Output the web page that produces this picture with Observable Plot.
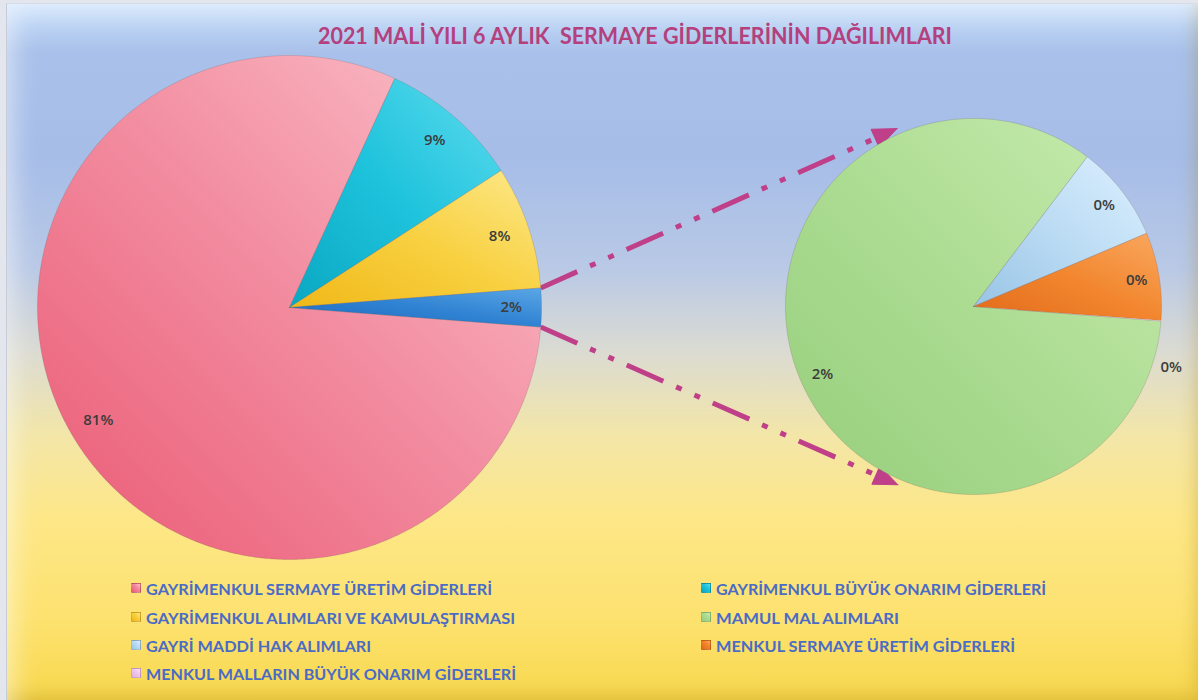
<!DOCTYPE html>
<html>
<head>
<meta charset="utf-8">
<script src="https://cdn.jsdelivr.net/npm/d3@7"></script>
<script src="https://cdn.jsdelivr.net/npm/@observablehq/plot@0.6"></script>
<style>
  html, body { margin: 0; padding: 0; background: #f2f2f4; }
  #frame { position: relative; width: 1198px; height: 700px; overflow: hidden; background: #e4e6ee; }
  #panel {
    position: absolute; left: 6px; top: 3px; right: 0px; bottom: 0px;
    background: linear-gradient(180deg, #c9e0fb 0%, #a9c1ea 7%, #a6bde8 22%, #b9c9e6 38%, #dbdbd2 50%, #f3e6a8 62%, #fde787 74%, #fde270 88%, #f8d84e 100%);
    box-shadow: inset 30px 30px 26px -24px rgba(255,255,255,0.55), inset -14px -16px 18px -12px rgba(150,110,0,0.28);
    border-left: 1px solid #c8ccd8; border-top: 1px solid #d8dce8;
  }
  #title {
    position: absolute; top: 22px; left: 318px; width: 634px; height: 28px; text-align: left;
    font-family: Lato, "Open Sans", sans-serif; font-weight: 700; font-size: 22px; color: #b4407e;
    white-space: pre; 
  }
  #title span { display: inline-block; transform-origin: left center; }
  #chart { position: absolute; left: 0; top: 0; }
  .leg { position: absolute; height: 20px; display: flex; align-items: center;
    font-family: Lato, "Open Sans", sans-serif; font-weight: 700; font-size: 16px; color: #4a6bc6; white-space: pre; }
  .leg .sw { width: 10px; height: 10px; margin-right: 5px; border: 1px solid rgba(0,0,0,0.18); box-sizing: border-box; }
  .leg .tx { display: inline-block; transform-origin: left center; }
</style>
</head>
<body>
<div id="frame">
  <div id="panel"></div>
  <div id="title"><span></span></div>
  <div id="chart"></div>
  <div id="legend"></div>
</div>
<script>
// ---------------- DATA ----------------
const titleText = "2021 MALİ YILI 6 AYLIK  SERMAYE GİDERLERİNİN DAĞILIMLARI";

// primary pie (percent of total)
const mainCategories = [
  "GAYRİMENKUL SERMAYE ÜRETİM GİDERLERİ",
  "GAYRİMENKUL BÜYÜK ONARIM GİDERLERİ",
  "GAYRİMENKUL ALIMLARI VE KAMULAŞTIRMASI"
];
const mainValues = [80.6, 9.0, 7.9];

// secondary pie (split out of the "other" slice, percent of total)
const secondaryCategories = [
  "MAMUL MAL ALIMLARI",
  "GAYRİ MADDİ HAK ALIMLARI",
  "MENKUL SERMAYE ÜRETİM GİDERLERİ",
  "MENKUL MALLARIN BÜYÜK ONARIM GİDERLERİ"
];
const secondaryValues = [2.08, 0.205, 0.187, 0.001];

// legend order (row by row, two columns)
const legendOrder = [
  "GAYRİMENKUL SERMAYE ÜRETİM GİDERLERİ",
  "GAYRİMENKUL BÜYÜK ONARIM GİDERLERİ",
  "GAYRİMENKUL ALIMLARI VE KAMULAŞTIRMASI",
  "MAMUL MAL ALIMLARI",
  "GAYRİ MADDİ HAK ALIMLARI",
  "MENKUL SERMAYE ÜRETİM GİDERLERİ",
  "MENKUL MALLARIN BÜYÜK ONARIM GİDERLERİ"
];

// colour stops (dark, mid, light) per category
const palette = {
  "GAYRİMENKUL SERMAYE ÜRETİM GİDERLERİ":   ["#ea5a74", "#f28a9e", "#fbc3cc"],
  "GAYRİMENKUL BÜYÜK ONARIM GİDERLERİ":     ["#0aa7c2", "#1fc3dc", "#5fdcef"],
  "GAYRİMENKUL ALIMLARI VE KAMULAŞTIRMASI": ["#f0b818", "#f8d040", "#fde98a"],
  "MAMUL MAL ALIMLARI":                    ["#96ce7c", "#acdc92", "#c8ecb0"],
  "GAYRİ MADDİ HAK ALIMLARI":               ["#98c4e6", "#bcdcf4", "#dcf0ff"],
  "MENKUL SERMAYE ÜRETİM GİDERLERİ":        ["#e26a1a", "#f2862e", "#f9a860"],
  "MENKUL MALLARIN BÜYÜK ONARIM GİDERLERİ": ["#e2aee0", "#f0c8ec", "#f8e2f6"],
  "OTHER":                                 ["#1d66b8", "#2f82d2", "#5aa6e6"]
};

// ---------------- LAYOUT ----------------
const W = 1198, H = 700;
const mainPie = {cx: 289, cy: 307, r: 252};
const secPie  = {cx: 973, cy: 306, r: 188};
const lineColor = "#bf3f88";

const otherTotal = d3.sum(secondaryValues);
const mainData = mainCategories.map((c, i) => ({key: c, value: mainValues[i]}))
  .concat([{key: "OTHER", value: otherTotal}]);
const secData = secondaryCategories.map((c, i) => ({key: c, value: secondaryValues[i]}));
const grand = d3.sum(mainData, d => d.value);

// rotate so that the "other" slice is centred on the right (3 o'clock)
const otherFrac = otherTotal / grand;
const start = Math.PI / 2 + otherFrac * Math.PI;

const mainArcs = d3.pie().sort(null).value(d => d.value).startAngle(start).endAngle(start + 2 * Math.PI)(mainData);
const secArcs  = d3.pie().sort(null).value(d => d.value).startAngle(start).endAngle(start + 2 * Math.PI)(secData);

const pt = (p, r, a) => ({x: p.cx + r * Math.sin(a), y: p.cy - r * Math.cos(a)});

function slicePolygon(p, arc, id) {
  const pts = [{...pt(p, 0, 0), id}];
  const n = Math.max(2, Math.ceil((arc.endAngle - arc.startAngle) / (Math.PI / 360)));
  for (let i = 0; i <= n; i++) {
    const a = arc.startAngle + (arc.endAngle - arc.startAngle) * i / n;
    pts.push({...pt(p, p.r, a), id});
  }
  pts.push({...pt(p, 0, 0), id});
  return pts;
}

const gradId = k => "g" + Object.keys(palette).indexOf(k);

function pieMarks(p, arcs, tag) {
  return arcs.map((arc, i) => Plot.line(slicePolygon(p, arc, tag + i), {
    x: "x", y: "y", curve: "linear",
    fill: `url(#${gradId(arc.data.key)})`,
    stroke: "#6b5050", strokeOpacity: (arc.endAngle - arc.startAngle) < 0.02 ? 0 : 0.25, strokeWidth: 0.8
  }));
}

function labels(p, arcs) {
  return arcs.map(arc => {
    const frac = (arc.endAngle - arc.startAngle) / (2 * Math.PI);
    const mid = (arc.startAngle + arc.endAngle) / 2;
    const tiny = frac < 0.02;
    const q = tiny ? pt(p, p.r * 1.1, mid + 0.22) : pt(p, p.r * 0.88, mid);
    return {...q, text: Math.round(arc.data.value / grand * 100) + "%"};
  });
}
const labelData = labels(mainPie, mainArcs).concat(labels(secPie, secArcs));

// series lines: from the edges of the "other" slice to tangent points of the secondary pie
const otherArc = mainArcs[mainArcs.length - 1];
function tangent(P, C, r, sign) {
  const dx = P.x - C.cx, dy = P.y - C.cy;
  const d = Math.hypot(dx, dy);
  const base = Math.atan2(dy, dx);
  const t = Math.acos(r / d);
  const a = base + sign * t;
  return {x: C.cx + r * 1.03 * Math.cos(a), y: C.cy + r * 1.03 * Math.sin(a)};
}
const pTop = pt(mainPie, mainPie.r, otherArc.startAngle);
const pBot = pt(mainPie, mainPie.r, otherArc.endAngle);
const tTop = tangent(pTop, secPie, secPie.r, 1);
const tBot = tangent(pBot, secPie, secPie.r, -1);
const connectors = [
  {x1: pTop.x, y1: pTop.y, x2: tTop.x, y2: tTop.y, id: "top"},
  {x1: pBot.x, y1: pBot.y, x2: tBot.x, y2: tBot.y, id: "bot"}
];
function headPolygon(c, len, half) {
  const dx = c.x2 - c.x1, dy = c.y2 - c.y1, L = Math.hypot(dx, dy);
  const ux = dx / L, uy = dy / L, nx = -uy, ny = ux;
  const bx = c.x2 - ux * len, by = c.y2 - uy * len;
  return [
    {x: c.x2, y: c.y2, id: c.id}, {x: bx + nx * half, y: by + ny * half, id: c.id},
    {x: bx - nx * half, y: by - ny * half, id: c.id}, {x: c.x2, y: c.y2, id: c.id}
  ];
}
const linkData = connectors.map(c => {
  const dx = c.x2 - c.x1, dy = c.y2 - c.y1, L = Math.hypot(dx, dy);
  return {...c, x2: c.x2 - dx / L * 20, y2: c.y2 - dy / L * 20};
});
const heads = connectors.flatMap(c => headPolygon(c, 24, 10));

// ---------------- PLOT ----------------
const chart = Plot.plot({
  width: W, height: H, margin: 0,
  x: {domain: [0, W], range: [0, W], axis: null},
  y: {domain: [0, H], range: [0, H], axis: null},
  style: {background: "transparent", overflow: "visible"},
  marks: [
    Plot.link(linkData, {x1: "x1", y1: "y1", x2: "x2", y2: "y2", stroke: lineColor, strokeWidth: 5,
      strokeDasharray: "40,14,6,14,6,14", strokeLinecap: "butt"}),
    Plot.line(heads, {x: "x", y: "y", z: "id", fill: lineColor, stroke: lineColor, strokeWidth: 1}),
    ...pieMarks(mainPie, mainArcs, "m"),
    ...pieMarks(secPie, secArcs, "s"),
    Plot.text(labelData, {x: "x", y: "y", text: "text", fill: "#3c3c3c", fontSize: 15, fontWeight: 600,
      fontFamily: "'Open Sans', Lato, sans-serif"})
  ]
});
document.getElementById("chart").appendChild(chart);

// gradients
const svgNS = "http://www.w3.org/2000/svg";
const defs = document.createElementNS(svgNS, "defs");
Object.entries(palette).forEach(([k, cols]) => {
  const g = document.createElementNS(svgNS, "linearGradient");
  g.setAttribute("id", gradId(k));
  g.setAttribute("x1", "0"); g.setAttribute("y1", "1"); g.setAttribute("x2", "1"); g.setAttribute("y2", "0");
  [[0, cols[0]], [0.5, cols[1]], [1, cols[2]]].forEach(([o, c]) => {
    const s = document.createElementNS(svgNS, "stop");
    s.setAttribute("offset", o); s.setAttribute("stop-color", c);
    g.appendChild(s);
  });
  defs.appendChild(g);
});
chart.insertBefore(defs, chart.firstChild);

// title fitting
document.querySelector("#title span").textContent = titleText;
(function fitTitle() {
  const s = document.querySelector("#title span");
  const w = s.getBoundingClientRect().width;
  s.style.transform = `scaleX(${634 / w})`;
})();

// legend
const legendCols = [131, 701];
const legendRows = [588, 617, 645, 673];
const legendWidths = {
  "GAYRİMENKUL SERMAYE ÜRETİM GİDERLERİ": 346,
  "GAYRİMENKUL BÜYÜK ONARIM GİDERLERİ": 330,
  "GAYRİMENKUL ALIMLARI VE KAMULAŞTIRMASI": 369,
  "MAMUL MAL ALIMLARI": 183,
  "GAYRİ MADDİ HAK ALIMLARI": 225,
  "MENKUL SERMAYE ÜRETİM GİDERLERİ": 299,
  "MENKUL MALLARIN BÜYÜK ONARIM GİDERLERİ": 370
};
const legend = document.getElementById("legend");
legendOrder.forEach((k, i) => {
  const el = document.createElement("div");
  el.className = "leg";
  el.style.left = legendCols[i % 2] + "px";
  el.style.top = (legendRows[Math.floor(i / 2)] - 10) + "px";
  const c = palette[k];
  el.innerHTML = `<span class="sw" style="background:linear-gradient(45deg, ${c[0]}, ${c[1]} 60%, ${c[2]})"></span><span class="tx">${k}</span>`;
  legend.appendChild(el);
  const tx = el.querySelector(".tx");
  const w = tx.getBoundingClientRect().width;
  tx.style.transform = `scaleX(${legendWidths[k] / w})`;
});
</script>
</body>
</html>
